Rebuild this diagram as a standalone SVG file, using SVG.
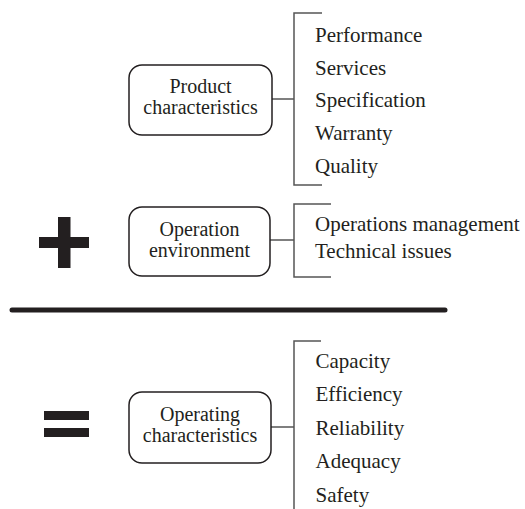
<svg xmlns="http://www.w3.org/2000/svg" width="525" height="509" viewBox="0 0 525 509">
<style>
.box{fill:#fff;stroke:#231f20;stroke-width:1.5}
.br{fill:none;stroke:#555;stroke-width:1.5}
.t{font-family:"Liberation Serif","Times New Roman",serif;font-size:21px;fill:#231f20}
.bt{font-family:"Liberation Serif","Times New Roman",serif;font-size:20px;fill:#231f20;text-anchor:middle}
.sym{fill:#231f20}
</style>
<rect width="525" height="509" fill="#fff"/>
<g id="connectors">
<path class="br" d="M272 99H294M322 13H294V185H322"/>
<path class="br" d="M270 240H294M331 204H294V277H331"/>
<path class="br" d="M271 427H294M321 341H294V509"/>
</g>
<g id="product">
<rect class="box" x="129" y="65" width="143" height="70" rx="13"/>
<text class="bt" x="200.5" y="93">Product</text>
<text class="bt" x="200.5" y="113.5">characteristics</text>
</g>
<g id="product-items">
<text class="t" x="315" y="42">Performance</text>
<text class="t" x="315" y="75">Services</text>
<text class="t" x="315" y="107">Specification</text>
<text class="t" x="315" y="140">Warranty</text>
<text class="t" x="315" y="173">Quality</text>
</g>
<g id="plus">
<rect class="sym" x="39" y="237" width="50" height="11"/>
<rect class="sym" x="58" y="217" width="12.5" height="51"/>
</g>
<g id="operation">
<rect class="box" x="129" y="207" width="141" height="69" rx="13"/>
<text class="bt" x="199.5" y="236">Operation</text>
<text class="bt" x="199.5" y="256.5">environment</text>
</g>
<g id="operation-items">
<text class="t" x="315" y="231">Operations management</text>
<text class="t" x="315" y="258">Technical issues</text>
</g>
<g id="divider">
<line x1="12" y1="310" x2="445" y2="310" stroke="#231f20" stroke-width="5" stroke-linecap="round"/>
</g>
<g id="equals">
<rect class="sym" x="44" y="411" width="45" height="9"/>
<rect class="sym" x="44" y="428" width="45" height="9"/>
</g>
<g id="operating">
<rect class="box" x="129" y="392" width="142" height="71" rx="13"/>
<text class="bt" x="200" y="421">Operating</text>
<text class="bt" x="200" y="441.5">characteristics</text>
</g>
<g id="operating-items">
<text class="t" x="315.5" y="368">Capacity</text>
<text class="t" x="315.5" y="401">Efficiency</text>
<text class="t" x="315.5" y="435">Reliability</text>
<text class="t" x="315.5" y="468">Adequacy</text>
<text class="t" x="315.5" y="501.5">Safety</text>
</g>
</svg>
